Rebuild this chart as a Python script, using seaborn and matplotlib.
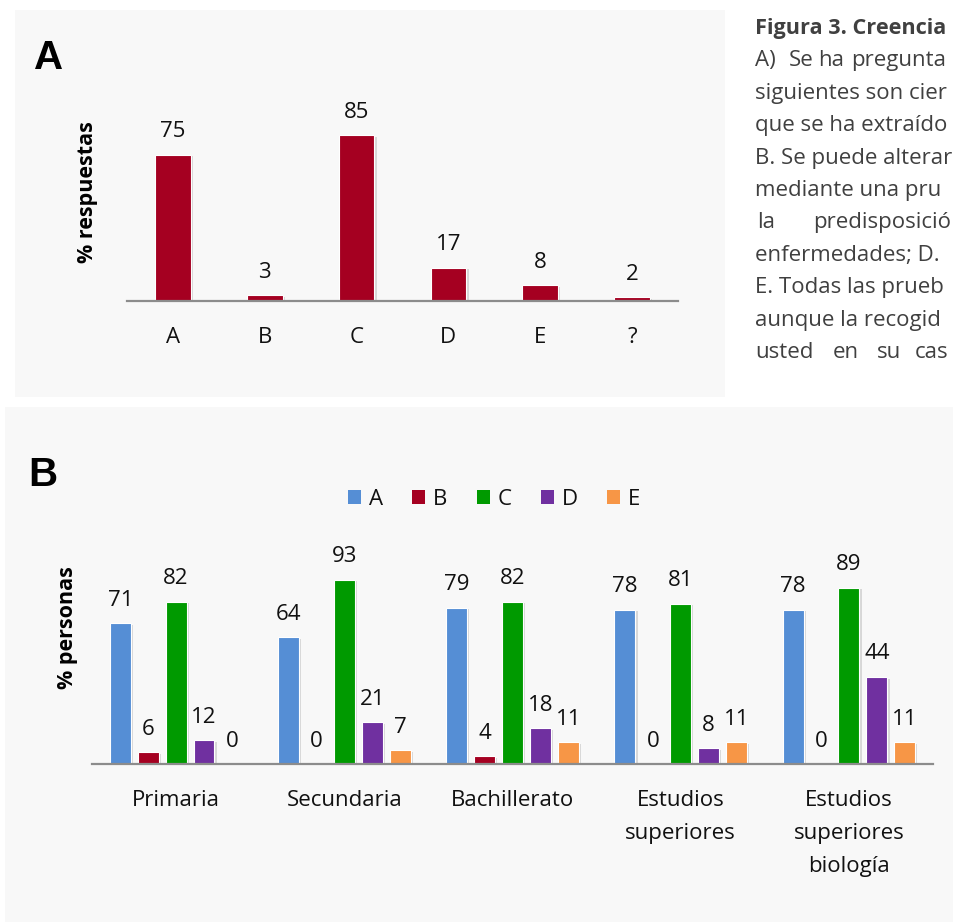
import matplotlib
matplotlib.use("Agg")
import matplotlib.pyplot as plt
from matplotlib.patches import Rectangle, Patch
from matplotlib import patheffects as pe
import pandas as pd
import seaborn as sns

# ---- data -------------------------------------------------------------
beliefs = ["A", "B", "C", "D", "E", "?"]
beliefs_pct = [75, 3, 85, 17, 8, 2]

levels = ["Primaria", "Secundaria", "Bachillerato",
          "Estudios\nsuperiores", "Estudios\nsuperiores\nbiología"]
series_names = ["A", "B", "C", "D", "E"]
serie_a = [71, 64, 79, 78, 78]
serie_b = [6, 0, 4, 0, 0]
serie_c = [82, 93, 82, 81, 89]
serie_d = [12, 21, 18, 8, 44]
serie_e = [0, 7, 11, 11, 11]

series_colors = ["#558ED5", "#A50021", "#009A00", "#7030A0", "#F79646"]

caption_lines = [
    ["Figura 3. Creencias"],
    ["A)", "Se", "ha", "preguntado"],
    ["siguientes son ciertas"],
    ["que se ha extraído"],
    ["B. Se puede alterar"],
    ["mediante una prueba"],
    ["la", "predisposición"],
    ["enfermedades; D."],
    ["E. Todas las pruebas"],
    ["aunque la recogida"],
    ["usted", "en", "su", "caso"],
]

# ---- style ------------------------------------------------------------
sns.set_style("white")
plt.rcParams["font.family"] = ["Open Sans", "DejaVu Sans"]
TEXT = "#111111"
FS = 16

W, H = 954, 922
fig = plt.figure(figsize=(W / 100, H / 100), dpi=100)
fig.patch.set_facecolor("white")


def fx(px):
    return px / W


def fy(py):
    return 1 - py / H


def panel_bg(x0, y0, x1, y1):
    fig.patches.append(Rectangle((fx(x0), fy(y1)), fx(x1) - fx(x0), fy(y0) - fy(y1),
                                 transform=fig.transFigure, facecolor="#F8F8F8",
                                 edgecolor="none", zorder=-5))


def style_axes(ax):
    ax.set_facecolor("none")
    for s in ("top", "right", "left"):
        ax.spines[s].set_visible(False)
    ax.spines["bottom"].set_color("#8C8C8C")
    ax.spines["bottom"].set_linewidth(1.6)
    ax.set_yticks([])
    ax.set_xlabel("")
    ax.set_ylabel("")
    ax.tick_params(axis="x", length=0, pad=18.5, labelsize=FS, labelcolor=TEXT)
    ax.set_ylim(0, 103)
    shadow = [pe.SimplePatchShadow(offset=(1.6, -1.2), shadow_rgbFace="#9a9a9a", alpha=0.35),
              pe.Normal()]
    for bar in ax.patches:
        bar.set_path_effects(shadow)


panel_bg(15, 10, 725, 397)
panel_bg(5, 407, 954, 922)

# ---- panel A ----------------------------------------------------------
axA = fig.add_axes([fx(127), fy(301), fx(678) - fx(127), fy(100) - fy(301)])
dfA = pd.DataFrame({"belief": beliefs, "pct": beliefs_pct})
sns.barplot(data=dfA, x="belief", y="pct", color="#A50021", width=0.39,
            saturation=1, errorbar=None, edgecolor="white", linewidth=0.8, ax=axA)
style_axes(axA)
for cont in axA.containers:
    axA.bar_label(cont, fmt="{:.0f}", padding=9, fontsize=FS, color=TEXT)

fig.text(fx(49), fy(58), "A", fontsize=29, fontweight="bold",
         family="Liberation Sans", ha="center", va="center", color="black")
fig.text(fx(88), fy(192), "% respuestas", rotation=90, fontsize=15.5,
         fontweight="bold", ha="center", va="center", color="black")

# ---- panel B ----------------------------------------------------------
axB = fig.add_axes([fx(92), fy(764), fx(933) - fx(92), fy(560) - fy(764)])
dfB = pd.DataFrame({
    "nivel": levels * 5,
    "serie": sum([[n] * len(levels) for n in series_names], []),
    "pct": serie_a + serie_b + serie_c + serie_d + serie_e,
})
sns.barplot(data=dfB, x="nivel", y="pct", hue="serie", order=levels,
            hue_order=series_names, palette=series_colors, width=0.83, gap=0.25,
            saturation=1, errorbar=None, edgecolor="white", linewidth=0.8, ax=axB)
style_axes(axB)
for lbl in axB.get_xticklabels():
    lbl.set_linespacing(1.75)
for cont in axB.containers:
    axB.bar_label(cont, fmt="{:.0f}", padding=9, fontsize=FS, color=TEXT)

axB.get_legend().remove()
handles = [Patch(facecolor=c, edgecolor="none") for c in series_colors]
fig.legend(handles, series_names, loc="center", bbox_to_anchor=(fx(494), fy(499)),
           ncol=5, frameon=False, fontsize=FS, handlelength=0.6, handleheight=0.6,
           handletextpad=0.35, columnspacing=1.3, labelcolor=TEXT)

fig.text(fx(43), fy(475), "B", fontsize=29, fontweight="bold",
         family="Liberation Sans", ha="center", va="center", color="black")
fig.text(fx(67), fy(628), "% personas", rotation=90, fontsize=15.5,
         fontweight="bold", ha="center", va="center", color="black")

# ---- caption column: justified lines that stop at the right edge ----------
word_x = {1: [755, 789, 818, 851], 6: [757, 813], 10: [755, 833, 877, 915]}
cap_texts = []
for i, words in enumerate(caption_lines):
    y = 34 + i * 32.4
    xs = word_x.get(i, [755])
    for w, x in zip(words, xs):
        t = fig.text(fx(x), fy(y), w, fontsize=15.6 if i == 0 else 16,
                     color="#404040", va="baseline", ha="left",
                     fontweight="bold" if i == 0 else "normal")
        cap_texts.append(t)

fig.canvas.draw()
renderer = fig.canvas.get_renderer()
for t in cap_texts:
    s = t.get_text()
    while len(s) > 1 and t.get_window_extent(renderer).x1 > W - 1:
        s = s[:-1]
        t.set_text(s)

fig.savefig("out.png", dpi=100)
